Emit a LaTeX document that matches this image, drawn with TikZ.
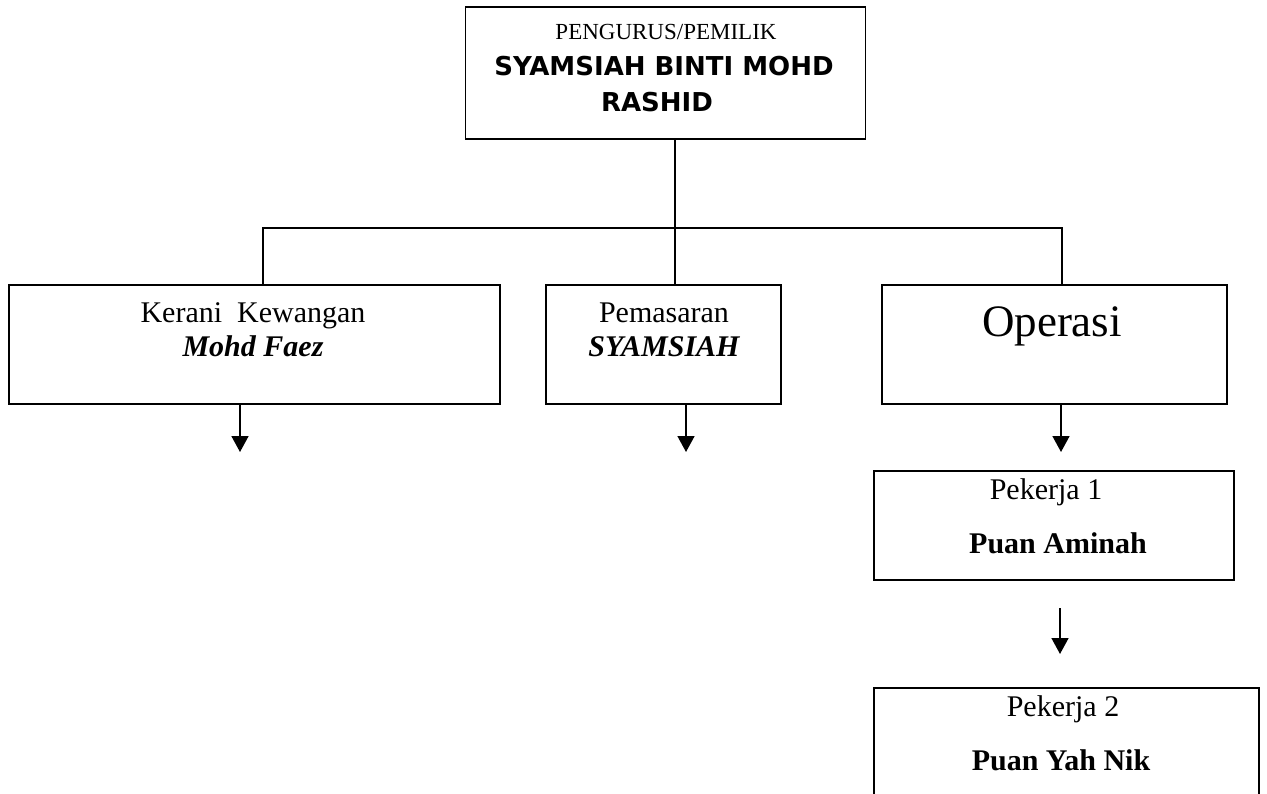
\documentclass[tikz,border=0pt]{standalone}
\usepackage{fontspec}
\setmainfont{Liberation Serif}
\newfontfamily\blkfont{DejaVu Sans}
\usetikzlibrary{arrows.meta}
\tikzset{
  box/.style={draw, line width=1.8pt, inner sep=0pt, minimum width=#1},
  lbl/.style={anchor=base, inner sep=0pt, font=\fontsize{30}{34}\selectfont},
  conn/.style={line width=1.3pt},
  arr/.style={line width=1.6pt, -{Triangle[length=16pt,width=17pt]}},
}
\begin{document}
\begin{tikzpicture}[x=1pt,y=-1pt]
\useasboundingbox (0,0) rectangle (1267,794);
\clip (0,0) rectangle (1267,794);
% boxes
\node[box=400, minimum height=132] (top) at (665.5,73) {};
\node[box=491, minimum height=119] (kerani) at (254.5,344.5) {};
\node[box=235, minimum height=119] (pemasaran) at (663.5,344.5) {};
\node[box=345, minimum height=119] (operasi) at (1054.5,344.5) {};
\node[box=360, minimum height=109] (p1) at (1054,525.5) {};
\node[box=385, minimum height=140] (p2) at (1066.5,758) {};
% texts
\node[lbl, font=\fontsize{23}{26}\selectfont] (t1) at (666,40) {PENGURUS/PEMILIK};
\node[lbl, font=\blkfont\bfseries\fontsize{26}{30}\selectfont] (t2) at (664,76) {SYAMSIAH BINTI MOHD};
\node[lbl, font=\blkfont\bfseries\fontsize{26}{30}\selectfont] (t3) at (657,112) {RASHID};
\node[lbl] (k1) at (253,323) {Kerani\ \ Kewangan};
\node[lbl, font=\fontsize{30}{34}\selectfont\bfseries\itshape] (k2) at (253,357) {Mohd Faez};
\node[lbl] (m1) at (664,323) {Pemasaran};
\node[lbl, font=\fontsize{30}{34}\selectfont\bfseries\itshape] (m2) at (664,357) {SYAMSIAH};
\node[lbl, font=\fontsize{45}{50}\selectfont] (o1) at (1052,337) {Operasi};
\node[lbl] (a1) at (1046,499) {Pekerja 1};
\node[lbl, font=\fontsize{30}{34}\selectfont\bfseries] (a2) at (1058,553) {Puan Aminah};
\node[lbl] (b1) at (1063,716) {Pekerja 2};
\node[lbl, font=\fontsize{30}{34}\selectfont\bfseries] (b2) at (1061,770) {Puan Yah Nik};
% connectors
\coordinate (bus) at (675,228);
\draw[conn] (top.south -| bus) -- (bus);
\draw[conn] (kerani.north -| 263,0) |- (bus) -| (operasi.north -| 1062,0);
\draw[conn] (bus) -- (pemasaran.north -| bus);
% arrows
\coordinate (ek) at (240,452);
\coordinate (em) at (686,452);
\coordinate (eo) at (1061,452);
\draw[arr] (kerani.south -| ek) -- (ek);
\draw[arr] (pemasaran.south -| em) -- (em);
\draw[arr] (operasi.south -| eo) -- (eo);
\coordinate (s1) at (1060,608);
\coordinate (e1) at (1060,654);
\draw[arr] (s1) -- (e1);
\end{tikzpicture}
\end{document}
